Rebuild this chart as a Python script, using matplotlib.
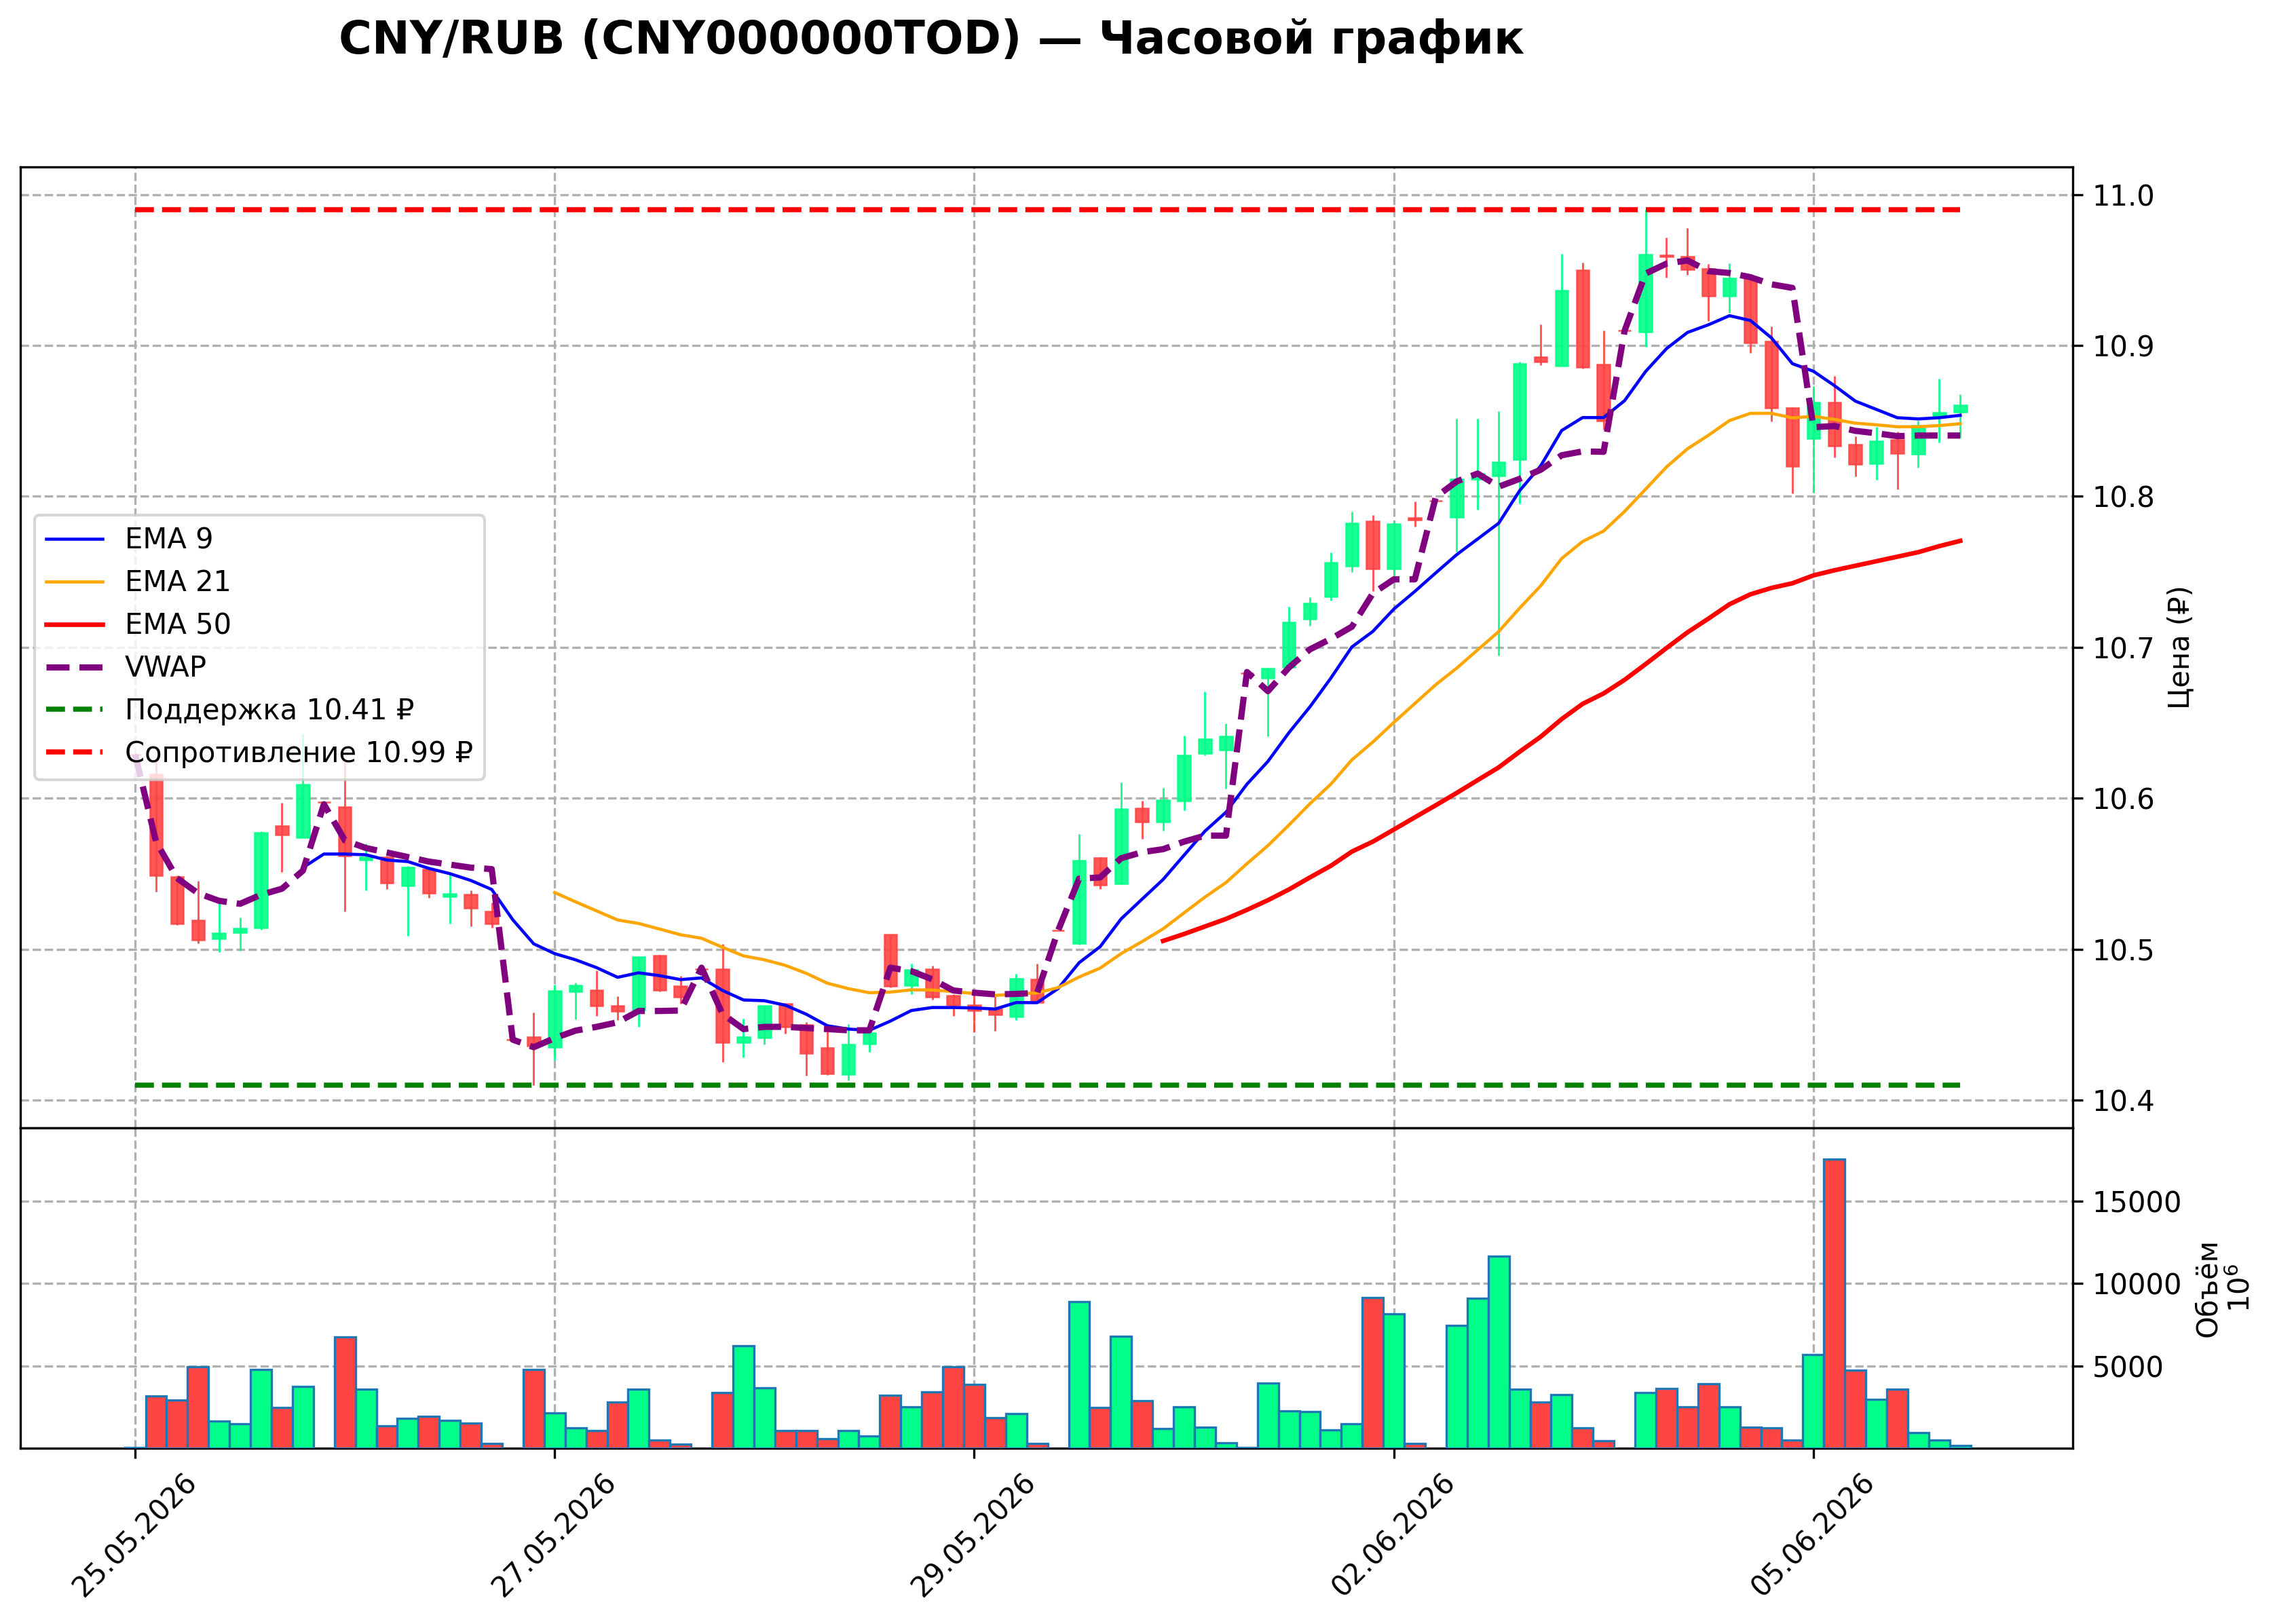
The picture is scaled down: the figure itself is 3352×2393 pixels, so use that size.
import numpy as np
import matplotlib
matplotlib.use("Agg")
import matplotlib.pyplot as plt

plt.rcParams['font.family'] = ['DejaVu Sans']

# ---------------- data ----------------
tick_index = [0, 20, 40, 60, 80]
tick_labels = ["25.05.2026", "27.05.2026", "29.05.2026", "02.06.2026", "05.06.2026"]

opens = [10.629, 10.616, 10.548, 10.519, 10.507, 10.511, 10.514, 10.5815, 10.574, 10.5975,
         10.594, 10.559, 10.561, 10.542, 10.553, 10.535, 10.536, 10.525, 10.440, 10.442,
         10.435, 10.4721, 10.4726, 10.4623, 10.4598, 10.4956, 10.4756, 10.4866, 10.4866, 10.4384,
         10.4414, 10.4636, 10.4497, 10.4346, 10.4169, 10.4372, 10.5095, 10.476, 10.4866, 10.4693,
         10.4628, 10.4602, 10.4553, 10.4799, 10.5124, 10.504, 10.5606, 10.5435, 10.5933, 10.5843,
         10.5983, 10.6298, 10.6318, 10.683, 10.6795, 10.687, 10.7187, 10.7337, 10.754, 10.7836,
         10.7519, 10.7857, 10.7972, 10.786, 10.8116, 10.8137, 10.8246, 10.8925, 10.8865, 10.950,
         10.8873, 10.9097, 10.9092, 10.9599, 10.959, 10.951, 10.9329, 10.9444, 10.9026, 10.8587,
         10.8382, 10.8624, 10.8344, 10.8216, 10.8376, 10.8281, 10.8529, 10.8557]
highs = [10.629, 10.626, 10.549, 10.545, 10.532, 10.521, 10.578, 10.597, 10.643, 10.5975,
         10.624, 10.570, 10.562, 10.555, 10.554, 10.5497, 10.539, 10.531, 10.440, 10.458,
         10.4764, 10.4779, 10.486, 10.4688, 10.4950, 10.4960, 10.4824, 10.4866, 10.5035, 10.4538,
         10.4625, 10.4640, 10.4518, 10.4480, 10.4503, 10.4470, 10.5095, 10.4904, 10.4892, 10.4700,
         10.4700, 10.4703, 10.4836, 10.4904, 10.5124, 10.5762, 10.561, 10.6103, 10.5983, 10.6067,
         10.6414, 10.6705, 10.6494, 10.683, 10.686, 10.7267, 10.733, 10.763, 10.790, 10.7877,
         10.7836, 10.7964, 10.7972, 10.8514, 10.8514, 10.8562, 10.889, 10.914, 10.9606, 10.9548,
         10.9097, 10.9097, 10.9899, 10.9717, 10.9776, 10.9539, 10.9542, 10.9450, 10.9125, 10.8590,
         10.8731, 10.8797, 10.8398, 10.8461, 10.8429, 10.8500, 10.8781, 10.8674]
lows = [10.629, 10.538, 10.516, 10.504, 10.498, 10.499, 10.513, 10.551, 10.574, 10.5975,
        10.525, 10.539, 10.540, 10.509, 10.534, 10.517, 10.515, 10.514, 10.440, 10.410,
        10.4267, 10.4535, 10.4557, 10.453, 10.4485, 10.4718, 10.4636, 10.4866, 10.425, 10.4282,
        10.437, 10.444, 10.4161, 10.4164, 10.4131, 10.432, 10.4744, 10.4703, 10.4663, 10.4557,
        10.4447, 10.4458, 10.453, 10.4649, 10.5124, 10.503, 10.540, 10.543, 10.5732, 10.5786,
        10.5919, 10.6284, 10.6063, 10.683, 10.6408, 10.687, 10.7142, 10.731, 10.750, 10.7372,
        10.7476, 10.780, 10.7972, 10.7635, 10.7912, 10.6943, 10.7952, 10.887, 10.8865, 10.8845,
        10.8442, 10.9097, 10.899, 10.9449, 10.9468, 10.916, 10.9215, 10.8952, 10.8497, 10.802,
        10.8024, 10.8256, 10.8134, 10.811, 10.8047, 10.8189, 10.8358, 10.8387]
closes = [10.629, 10.549, 10.517, 10.506, 10.5105, 10.5135, 10.577, 10.576, 10.609, 10.5975,
          10.562, 10.561, 10.544, 10.554, 10.537, 10.5365, 10.527, 10.517, 10.440, 10.436,
          10.4723, 10.476, 10.4625, 10.459, 10.4947, 10.4729, 10.4685, 10.4866, 10.4384, 10.4417,
          10.4625, 10.4485, 10.4312, 10.4176, 10.4367, 10.4443, 10.4756, 10.4861, 10.4685, 10.4628,
          10.4595, 10.4565, 10.4806, 10.4649, 10.5124, 10.5588, 10.5425, 10.5929, 10.5843, 10.5987,
          10.6284, 10.639, 10.641, 10.683, 10.686, 10.7166, 10.729, 10.756, 10.782, 10.7519,
          10.7818, 10.7845, 10.7972, 10.8116, 10.815, 10.8225, 10.888, 10.889, 10.9365, 10.8856,
          10.850, 10.9097, 10.9602, 10.959, 10.9504, 10.9329, 10.9444, 10.9018, 10.8584, 10.820,
          10.8624, 10.8335, 10.8213, 10.8368, 10.8287, 10.8469, 10.8556, 10.8605]
volumes = [30, 3165, 2933, 4952, 1637, 1500, 4774, 2483, 3751, 0,
           6779, 3587, 1364, 1814, 1950, 1705, 1541, 273, 0, 4774,
           2155, 1255, 1091, 2796, 3587, 477, 232, 0, 3383, 6206,
           3656, 1091, 1091, 586, 1091, 750, 3233, 2496, 3437, 4952,
           3887, 1869, 2087, 273, 0, 8893, 2455, 6793, 2905, 1187,
           2523, 1296, 314, 30, 3956, 2278, 2210, 1132, 1500, 9139,
           8143, 273, 0, 7475, 9112, 11662, 3574, 2796, 3274, 1228,
           450, 0, 3383, 3615, 2523, 3928, 2523, 1269, 1228, 477,
           5688, 17555, 4747, 2974, 3574, 928, 505, 164]

ema9 = [None] * 8 + [
    10.554, 10.563, 10.563, 10.5625, 10.559, 10.558, 10.5535, 10.550, 10.5455, 10.5395,
    10.5195, 10.5035, 10.497, 10.4929, 10.4877, 10.4813, 10.4843, 10.4824, 10.4798, 10.4809,
    10.4726, 10.4663, 10.4658, 10.4628, 10.4568, 10.4492, 10.447, 10.4462, 10.4523, 10.4593,
    10.4613, 10.4613, 10.461, 10.4603, 10.4646, 10.4645, 10.4739, 10.491, 10.5016, 10.520,
    10.5331, 10.5461, 10.5622, 10.5782, 10.5907, 10.6093, 10.6244, 10.6434, 10.6605, 10.6796,
    10.7002, 10.7105, 10.7253, 10.737, 10.7493, 10.7614, 10.7718, 10.7822, 10.8038, 10.8202,
    10.8436, 10.8522, 10.8522, 10.8634, 10.8827, 10.8979, 10.9086, 10.9137, 10.9197, 10.9165,
    10.905, 10.8879, 10.8829, 10.8734, 10.8631, 10.8576, 10.8521, 10.8513, 10.8521, 10.8537]
ema21 = [None] * 20 + [
    10.5375, 10.5313, 10.5253, 10.5193, 10.517, 10.5133, 10.5095, 10.5072, 10.5012, 10.4955,
    10.4929, 10.4892, 10.4839, 10.4774, 10.4738, 10.4711, 10.4715, 10.473, 10.4729, 10.4718,
    10.4706, 10.4693, 10.4703, 10.471, 10.4745, 10.4815, 10.4874, 10.497, 10.505, 10.5134,
    10.524, 10.5345, 10.5441, 10.5566, 10.5686, 10.5822, 10.5963, 10.6093, 10.6254, 10.6372,
    10.6502, 10.6627, 10.6752, 10.6862, 10.6983, 10.7104, 10.726, 10.7407, 10.7588, 10.7701,
    10.777, 10.790, 10.8047, 10.8195, 10.8315, 10.8405, 10.8502, 10.855, 10.855, 10.852,
    10.853, 10.851, 10.8485, 10.8474, 10.8461, 10.8461, 10.8469, 10.8481]
ema50 = [None] * 49 + [
    10.5054, 10.510, 10.515, 10.520, 10.526, 10.5324, 10.5395, 10.5475, 10.5552, 10.5646,
    10.5712, 10.5792, 10.5873, 10.5953, 10.6035, 10.612, 10.6204, 10.6308, 10.6407, 10.6524,
    10.6625, 10.6694, 10.6784, 10.6888, 10.6995, 10.7099, 10.719, 10.7285, 10.7351, 10.7393,
    10.7424, 10.7476, 10.751, 10.754, 10.757, 10.760, 10.763, 10.767, 10.7705]
vwap = [10.629, 10.571, 10.547, 10.537, 10.532, 10.530, 10.536, 10.540, 10.552, 10.596,
        10.572, 10.567, 10.564, 10.561, 10.558, 10.556, 10.554, 10.553, 10.440, 10.435,
        10.441, 10.446, 10.4485, 10.4515, 10.459, 10.459, 10.4593, 10.4877, 10.457, 10.447,
        10.4485, 10.4485, 10.4477, 10.447, 10.4462, 10.4462, 10.4877, 10.4854, 10.480, 10.4726,
        10.4711, 10.470, 10.4703, 10.471, 10.5124, 10.5467, 10.5475, 10.5602, 10.5642, 10.5662,
        10.5712, 10.5752, 10.5752, 10.6836, 10.6709, 10.6866, 10.6986, 10.7056, 10.7136, 10.7357,
        10.745, 10.745, 10.7995, 10.8099, 10.8151, 10.8064, 10.8116, 10.8176, 10.8272, 10.8298,
        10.8295, 10.9097, 10.9476, 10.9542, 10.9563, 10.9492, 10.948, 10.9452, 10.9405, 10.9381,
        10.8458, 10.8466, 10.8434, 10.8418, 10.8399, 10.8403, 10.8403, 10.8403]
support = 10.41
resistance = 10.99

# ---------------- plotting ----------------
o = np.array(opens, float)
h = np.array(highs, float)
l = np.array(lows, float)
c = np.array(closes, float)
v = np.array(volumes, float)
x = np.arange(len(c))
e9 = np.array(ema9, dtype=float)
e21 = np.array(ema21, dtype=float)
e50 = np.array(ema50, dtype=float)
vw = np.array(vwap, dtype=float)

RED = '#ff4444'
GREEN = '#00ff88'
up = c > o
ccol = np.where(up, GREEN, RED)

W, H = 3353, 2393
fig = plt.figure(figsize=(W / 300, H / 300), dpi=300)
left, right = 30 / W, 3053.6 / W
top1, mid, bot = 1 - 245.9 / H, 1 - 1661.6 / H, 1 - 2134 / H
ax1 = fig.add_axes([left, mid, right - left, top1 - mid])
ax2 = fig.add_axes([left, bot, right - left, mid - bot], sharex=ax1)

# candles
ax1.vlines(x, l, h, colors=ccol, linewidth=0.7, alpha=0.9, zorder=2)
ax1.bar(x, np.abs(c - o), bottom=np.minimum(o, c), width=0.6, color=ccol,
        edgecolor=ccol, linewidth=0.6, alpha=0.9, zorder=3)

ax1.plot(x, e9, color='blue', linewidth=1.1, label='EMA 9', zorder=4)
ax1.plot(x, e21, color='orange', linewidth=1.1, label='EMA 21', zorder=4)
ax1.plot(x, e50, color='red', linewidth=1.6, label='EMA 50', zorder=4)
ax1.plot(x, vw, color='purple', linewidth=2.2, linestyle='--', label='VWAP', zorder=5)
ax1.hlines(support, x[0], x[-1], colors='green', linestyles='--', linewidth=1.8,
           label=f'Поддержка {support:.2f} ₽', zorder=4)
ax1.hlines(resistance, x[0], x[-1], colors='red', linestyles='--', linewidth=1.8,
           label=f'Сопротивление {resistance:.2f} ₽', zorder=4)

ax1.set_xlim(-5.47, 92.35)
ax1.set_ylim(10.3817, 11.0183)
ax1.yaxis.tick_right()
ax1.yaxis.set_label_position('right')
ax1.set_ylabel('Цена (₽)', fontsize=10)
ax1.tick_params(axis='x', bottom=False, labelbottom=False)
ax1.tick_params(axis='y', labelsize=10)
ax1.grid(True, linestyle='--', linewidth=0.8, color='#b0b0b0')
ax1.legend(loc='center left', fontsize=10)

# volume
mask = v > 0
vcol = np.where(up, GREEN, RED)
ax2.bar(x[mask], v[mask], width=1.0, color=vcol[mask], edgecolor='#1f77b4',
        linewidth=0.8, zorder=3)
ax2.set_ylim(0, 19470)
ax2.set_yticks([5000, 10000, 15000])
ax2.yaxis.tick_right()
ax2.yaxis.set_label_position('right')
ax2.set_ylabel('Объём\n$10^6$', fontsize=10)
ax2.grid(True, linestyle='--', linewidth=0.8, color='#b0b0b0')
ax2.set_xticks(tick_index)
ax2.set_xticklabels(tick_labels, rotation=45, fontsize=10)
ax2.tick_params(axis='y', labelsize=10)

fig.text(1373 / W, 1 - 60 / H, 'CNY/RUB (CNY000000TOD) — Часовой график',
         fontsize=16, fontweight='bold', ha='center', va='center')

fig.savefig('out.png', dpi=300)
